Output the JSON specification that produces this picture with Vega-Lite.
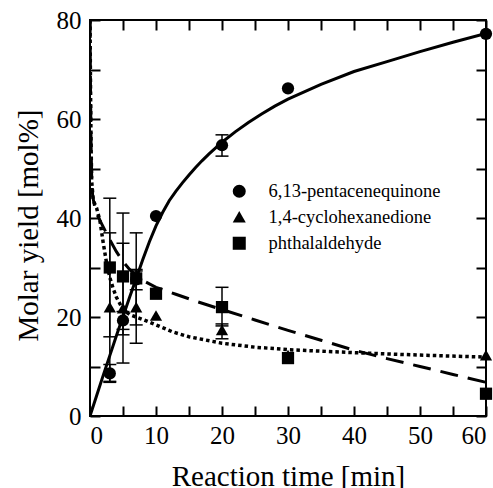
{
  "$schema": "https://vega.github.io/schema/vega-lite/v6.json",
  "width": 396,
  "height": 396,
  "autosize": {"type": "none"},
  "padding": {"left": 90, "top": 20, "right": 7, "bottom": 72},
  "background": "white",
  "config": {
    "view": {"stroke": "black", "strokeWidth": 2},
    "font": "Liberation Serif",
    "axis": {
      "grid": false,
      "domain": false,
      "offset": -10,
      "tickColor": "black",
      "tickWidth": 2,
      "tickSize": 10,
      "labelColor": "black",
      "labelFont": "Liberation Serif",
      "labelFontSize": 25,
      "titleFont": "Liberation Serif",
      "titleFontSize": 29,
      "titleFontWeight": "normal",
      "titleColor": "black"
    },
    "legend": {
      "labelFont": "Liberation Serif",
      "labelFontSize": 18.5,
      "labelColor": "black",
      "labelLimit": 400
    }
  },
  "datasets": {
    "points": [
      {"compound": "6,13-pentacenequinone", "time": 3, "yield": 8.6},
      {"compound": "6,13-pentacenequinone", "time": 5, "yield": 19.3},
      {"compound": "6,13-pentacenequinone", "time": 7, "yield": 27.6},
      {"compound": "6,13-pentacenequinone", "time": 10, "yield": 40.4},
      {"compound": "6,13-pentacenequinone", "time": 20, "yield": 54.7},
      {"compound": "6,13-pentacenequinone", "time": 30, "yield": 66.2},
      {"compound": "6,13-pentacenequinone", "time": 60, "yield": 77.2},
      {"compound": "1,4-cyclohexanedione", "time": 3, "yield": 22.0},
      {"compound": "1,4-cyclohexanedione", "time": 5, "yield": 21.8},
      {"compound": "1,4-cyclohexanedione", "time": 7, "yield": 22.0},
      {"compound": "1,4-cyclohexanedione", "time": 10, "yield": 20.3},
      {"compound": "1,4-cyclohexanedione", "time": 20, "yield": 17.4},
      {"compound": "1,4-cyclohexanedione", "time": 30, "yield": 12.3},
      {"compound": "1,4-cyclohexanedione", "time": 60, "yield": 12.3},
      {"compound": "phthalaldehyde", "time": 3, "yield": 30.0},
      {"compound": "phthalaldehyde", "time": 5, "yield": 28.2},
      {"compound": "phthalaldehyde", "time": 7, "yield": 27.8},
      {"compound": "phthalaldehyde", "time": 10, "yield": 24.7},
      {"compound": "phthalaldehyde", "time": 20, "yield": 22.0},
      {"compound": "phthalaldehyde", "time": 30, "yield": 11.7},
      {"compound": "phthalaldehyde", "time": 60, "yield": 4.5}
    ],
    "errors": [
      {"compound": "6,13-pentacenequinone", "time": 3, "lo": 6.8, "hi": 10.4},
      {"compound": "6,13-pentacenequinone", "time": 5, "lo": 17.5, "hi": 21.1},
      {"compound": "6,13-pentacenequinone", "time": 7, "lo": 25.5, "hi": 29.6},
      {"compound": "6,13-pentacenequinone", "time": 20, "lo": 52.5, "hi": 56.8},
      {"compound": "1,4-cyclohexanedione", "time": 3, "lo": 7.0, "hi": 37.0},
      {"compound": "1,4-cyclohexanedione", "time": 5, "lo": 10.7, "hi": 34.9},
      {"compound": "1,4-cyclohexanedione", "time": 7, "lo": 14.7, "hi": 29.3},
      {"compound": "1,4-cyclohexanedione", "time": 20, "lo": 15.6, "hi": 18.6},
      {"compound": "phthalaldehyde", "time": 3, "lo": 16.0, "hi": 44.0},
      {"compound": "phthalaldehyde", "time": 5, "lo": 16.4, "hi": 41.0},
      {"compound": "phthalaldehyde", "time": 7, "lo": 18.4, "hi": 37.0},
      {"compound": "phthalaldehyde", "time": 20, "lo": 18.2, "hi": 26.0}
    ],
    "curves": [
      {"curve": "solid", "time": 0, "yield": 0},
      {"curve": "solid", "time": 1, "yield": 4.1},
      {"curve": "solid", "time": 2, "yield": 8.2},
      {"curve": "solid", "time": 3, "yield": 12.2},
      {"curve": "solid", "time": 4, "yield": 16.2},
      {"curve": "solid", "time": 5, "yield": 20.1},
      {"curve": "solid", "time": 6, "yield": 24.0},
      {"curve": "solid", "time": 7, "yield": 27.8},
      {"curve": "solid", "time": 8, "yield": 31.6},
      {"curve": "solid", "time": 9, "yield": 35.2},
      {"curve": "solid", "time": 10, "yield": 38.4},
      {"curve": "solid", "time": 11, "yield": 41.1},
      {"curve": "solid", "time": 12, "yield": 43.5},
      {"curve": "solid", "time": 13, "yield": 45.4},
      {"curve": "solid", "time": 14, "yield": 47.1},
      {"curve": "solid", "time": 15, "yield": 48.7},
      {"curve": "solid", "time": 16, "yield": 50.2},
      {"curve": "solid", "time": 17, "yield": 51.6},
      {"curve": "solid", "time": 18, "yield": 52.9},
      {"curve": "solid", "time": 19, "yield": 54.1},
      {"curve": "solid", "time": 20, "yield": 55.3},
      {"curve": "solid", "time": 22, "yield": 57.4},
      {"curve": "solid", "time": 24, "yield": 59.3},
      {"curve": "solid", "time": 26, "yield": 61.0},
      {"curve": "solid", "time": 28, "yield": 62.6},
      {"curve": "solid", "time": 30, "yield": 64.0},
      {"curve": "solid", "time": 35, "yield": 67.0},
      {"curve": "solid", "time": 40, "yield": 69.6},
      {"curve": "solid", "time": 45, "yield": 71.6},
      {"curve": "solid", "time": 50, "yield": 73.6},
      {"curve": "solid", "time": 55, "yield": 75.5},
      {"curve": "solid", "time": 60, "yield": 77.3},
      {"curve": "dashed", "time": 0, "yield": 80},
      {"curve": "dashed", "time": 0.08, "yield": 66},
      {"curve": "dashed", "time": 0.15, "yield": 56},
      {"curve": "dashed", "time": 0.25, "yield": 48.5},
      {"curve": "dashed", "time": 0.4, "yield": 44.5},
      {"curve": "dashed", "time": 0.7, "yield": 42.3},
      {"curve": "dashed", "time": 1.2, "yield": 40.3},
      {"curve": "dashed", "time": 2, "yield": 38.2},
      {"curve": "dashed", "time": 3, "yield": 35.6},
      {"curve": "dashed", "time": 4, "yield": 33.2},
      {"curve": "dashed", "time": 5, "yield": 31.2},
      {"curve": "dashed", "time": 6, "yield": 29.6},
      {"curve": "dashed", "time": 7, "yield": 28.4},
      {"curve": "dashed", "time": 8, "yield": 27.4},
      {"curve": "dashed", "time": 10, "yield": 26.0},
      {"curve": "dashed", "time": 13, "yield": 24.6},
      {"curve": "dashed", "time": 16, "yield": 23.2},
      {"curve": "dashed", "time": 20, "yield": 21.5},
      {"curve": "dashed", "time": 25, "yield": 19.4},
      {"curve": "dashed", "time": 30, "yield": 17.3},
      {"curve": "dashed", "time": 35, "yield": 15.3},
      {"curve": "dashed", "time": 40, "yield": 13.3},
      {"curve": "dashed", "time": 45, "yield": 11.6},
      {"curve": "dashed", "time": 50, "yield": 10.0},
      {"curve": "dashed", "time": 55, "yield": 8.4},
      {"curve": "dashed", "time": 60, "yield": 6.8},
      {"curve": "dotted", "time": 0, "yield": 80},
      {"curve": "dotted", "time": 0.08, "yield": 66},
      {"curve": "dotted", "time": 0.15, "yield": 56},
      {"curve": "dotted", "time": 0.25, "yield": 47.5},
      {"curve": "dotted", "time": 0.5, "yield": 43.5},
      {"curve": "dotted", "time": 1, "yield": 42.0},
      {"curve": "dotted", "time": 1.5, "yield": 39.5},
      {"curve": "dotted", "time": 2, "yield": 35.0},
      {"curve": "dotted", "time": 2.5, "yield": 31.0},
      {"curve": "dotted", "time": 3, "yield": 28.0},
      {"curve": "dotted", "time": 3.5, "yield": 25.8},
      {"curve": "dotted", "time": 4, "yield": 24.0},
      {"curve": "dotted", "time": 5, "yield": 21.5},
      {"curve": "dotted", "time": 6, "yield": 20.5},
      {"curve": "dotted", "time": 7, "yield": 20.0},
      {"curve": "dotted", "time": 8, "yield": 19.5},
      {"curve": "dotted", "time": 10, "yield": 18.4},
      {"curve": "dotted", "time": 12.5, "yield": 17.0},
      {"curve": "dotted", "time": 15, "yield": 16.0},
      {"curve": "dotted", "time": 20, "yield": 14.7},
      {"curve": "dotted", "time": 25, "yield": 13.9},
      {"curve": "dotted", "time": 30, "yield": 13.4},
      {"curve": "dotted", "time": 40, "yield": 12.8},
      {"curve": "dotted", "time": 50, "yield": 12.3},
      {"curve": "dotted", "time": 60, "yield": 11.9}
    ]
  },
  "layer": [
    {
      "data": {"name": "curves"},
      "transform": [{"filter": "datum.curve == 'solid'"}],
      "mark": {"type": "line", "color": "black", "strokeWidth": 3, "clip": true},
      "encoding": {
        "x": {
          "field": "time", "type": "quantitative",
          "scale": {"domain": [0, 60], "nice": false, "zero": false},
          "axis": {
            "orient": "bottom",
            "values": [0, 5, 10, 15, 20, 25, 30, 35, 40, 45, 50, 55, 60],
            "labelExpr": "datum.value % 10 == 0 ? datum.label : ''",
            "labelPadding": 7,
            "title": "Reaction time [min]",
            "titleBaseline": "alphabetic",
            "titleY": 79
          }
        },
        "y": {
          "field": "yield", "type": "quantitative",
          "scale": {"domain": [0, 80], "nice": false},
          "axis": {
            "orient": "left",
            "values": [0, 10, 20, 30, 40, 50, 60, 70, 80],
            "labelExpr": "datum.value % 20 == 0 ? datum.label : ''",
            "labelPadding": 9,
            "title": "Molar yield [mol%]",
            "titleBaseline": "alphabetic",
            "titleX": -63,
            "titleY": 205
          }
        }
      }
    },
    {
      "data": {"name": "curves"},
      "transform": [{"filter": "datum.curve == 'dashed'"}],
      "mark": {"type": "line", "color": "black", "strokeWidth": 3, "strokeDash": [18, 10], "clip": true},
      "encoding": {
        "x": {
          "field": "time", "type": "quantitative",
          "scale": {"domain": [0, 60], "nice": false, "zero": false},
          "axis": {
            "orient": "top",
            "values": [0, 5, 10, 15, 20, 25, 30, 35, 40, 45, 50, 55, 60],
            "labels": false,
            "title": null
          }
        },
        "y": {
          "field": "yield", "type": "quantitative",
          "scale": {"domain": [0, 80], "nice": false},
          "axis": {
            "orient": "right",
            "values": [0, 10, 20, 30, 40, 50, 60, 70, 80],
            "labels": false,
            "title": null
          }
        }
      }
    },
    {
      "data": {"name": "curves"},
      "transform": [{"filter": "datum.curve == 'dotted'"}],
      "mark": {"type": "line", "color": "black", "strokeWidth": 3.5, "strokeDash": [3.5, 3], "strokeCap": "butt", "clip": true},
      "encoding": {
        "x": {"field": "time", "type": "quantitative", "axis": null},
        "y": {"field": "yield", "type": "quantitative", "axis": null}
      }
    },
    {
      "data": {"name": "errors"},
      "mark": {"type": "rule", "color": "black", "strokeWidth": 1.5, "opacity": 1},
      "encoding": {
        "x": {"field": "time", "type": "quantitative", "axis": null},
        "y": {"field": "lo", "type": "quantitative", "axis": null},
        "y2": {"field": "hi"}
      }
    },
    {
      "data": {"name": "errors"},
      "mark": {"type": "tick", "color": "black", "opacity": 1, "orient": "horizontal", "size": 13, "thickness": 1.5},
      "encoding": {
        "x": {"field": "time", "type": "quantitative", "axis": null},
        "y": {"field": "lo", "type": "quantitative", "axis": null}
      }
    },
    {
      "data": {"name": "errors"},
      "mark": {"type": "tick", "color": "black", "opacity": 1, "orient": "horizontal", "size": 13, "thickness": 1.5},
      "encoding": {
        "x": {"field": "time", "type": "quantitative", "axis": null},
        "y": {"field": "hi", "type": "quantitative", "axis": null}
      }
    },
    {
      "data": {"name": "points"},
      "mark": {"type": "point", "filled": true, "color": "black", "opacity": 1, "size": 150},
      "encoding": {
        "x": {"field": "time", "type": "quantitative", "axis": null},
        "y": {"field": "yield", "type": "quantitative", "axis": null},
        "shape": {
          "field": "compound", "type": "nominal",
          "scale": {
            "domain": ["6,13-pentacenequinone", "1,4-cyclohexanedione", "phthalaldehyde"],
            "range": ["circle", "triangle-up", "square"]
          },
          "legend": {
            "title": null,
            "orient": "none",
            "legendX": 140,
            "legendY": 162,
            "symbolSize": 170,
            "symbolFillColor": "black",
            "symbolStrokeColor": "black",
            "symbolOpacity": 1,
            "labelOffset": 20,
            "rowPadding": 6.5,
            "padding": 0
          }
        }
      }
    }
  ],
  "resolve": {"axis": {"x": "independent", "y": "independent"}}
}
